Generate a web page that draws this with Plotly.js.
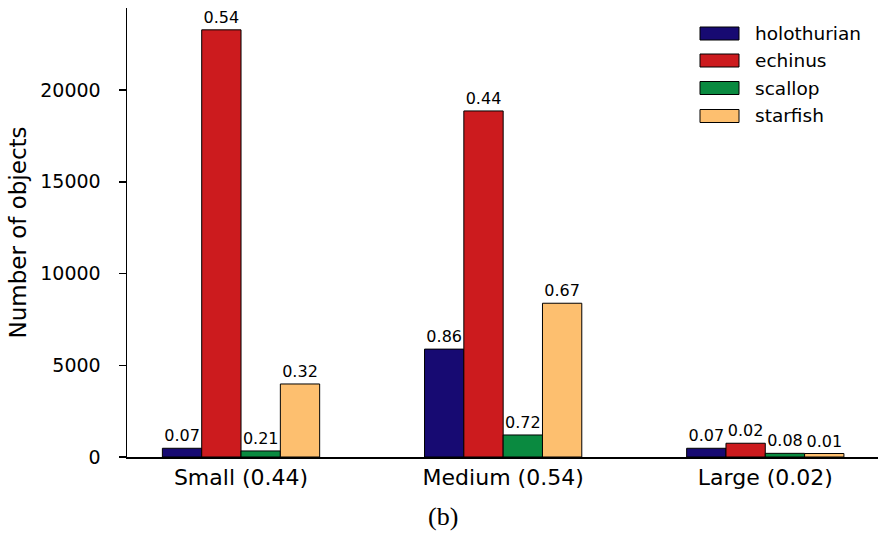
<!DOCTYPE html>
<html>
<head>
<meta charset="utf-8">
<script src="https://cdn.plot.ly/plotly-3.0.1.min.js"></script>
<style>html,body{margin:0;padding:0;background:#fff;}#chart{width:878px;height:533px;}</style>
</head>
<body>
<div id="chart"></div>
<script>
const categories = ['Small (0.44)', 'Medium (0.54)', 'Large (0.02)'];
const seriesNames = ['holothurian', 'echinus', 'scallop', 'starfish'];
const holothurian = [475, 5880, 475];
const echinus = [23280, 18860, 750];
const scallop = [330, 1200, 200];
const starfish = [3980, 8380, 190];
const holothurianLabels = ['0.07', '0.86', '0.07'];
const echinusLabels = ['0.54', '0.44', '0.02'];
const scallopLabels = ['0.21', '0.72', '0.08'];
const starfishLabels = ['0.32', '0.67', '0.01'];
const yTicks = [0, 5000, 10000, 15000, 20000];
const colors = ['#170a72', '#cc1b1e', '#0a8a40', '#fdbf6f'];

const values = [holothurian, echinus, scallop, starfish];
const labels = [holothurianLabels, echinusLabels, scallopLabels, starfishLabels];
const FONT = 'DejaVu Sans, sans-serif';

const traces = values.map((v, i) => ({
  type: 'bar',
  name: seriesNames[i],
  x: categories,
  y: v,
  text: labels[i],
  texttemplate: '%{text}',
  textposition: 'outside',
  constraintext: 'none',
  cliponaxis: false,
  textfont: {family: FONT, size: 16, color: '#000'},
  marker: {color: colors[i], line: {color: '#000', width: 1}},
  hoverinfo: 'none',
  showlegend: false
}));

// plot area in pixels
const L = 127, R = 878, T = 8, B = 457;
const px = x => (x - L) / (R - L);
const py = y => (B - y) / (B - T);

const shapes = [];
const annotations = [];
const rows = [33.5, 60.5, 88, 116];
seriesNames.forEach((n, i) => {
  shapes.push({type: 'rect', xref: 'paper', yref: 'paper',
    x0: px(700), x1: px(739), y0: py(rows[i] + 6.5), y1: py(rows[i] - 6.5),
    fillcolor: colors[i], line: {color: '#000', width: 1}});
  annotations.push({xref: 'paper', yref: 'paper', x: px(753), y: py(rows[i]),
    xanchor: 'left', yanchor: 'middle', showarrow: false, text: n,
    font: {family: FONT, size: 18.5, color: '#000'}});
});
annotations.push({xref: 'paper', yref: 'paper', x: px(443), y: py(516),
  xanchor: 'center', yanchor: 'middle', showarrow: false, text: '(b)',
  font: {family: 'Liberation Serif, Times New Roman, serif', size: 26, color: '#000'}});

const layout = {
  width: 878, height: 533,
  margin: {l: L, r: 878 - R, t: T, b: 533 - B, pad: 0},
  paper_bgcolor: '#fff', plot_bgcolor: '#fff',
  barmode: 'group', bargap: 0.4, bargroupgap: 0,
  showlegend: false,
  font: {family: FONT, color: '#000'},
  xaxis: {
    type: 'category', range: [-0.435, 2.43],
    showline: true, linecolor: '#000', linewidth: 1.5,
    ticks: '', showgrid: false, zeroline: false,
    tickfont: {family: FONT, size: 22, color: '#000'},
    ticklabelstandoff: 0
  },
  yaxis: {
    range: [0, 24470], tickvals: yTicks, ticktext: yTicks.map(String),
    showline: true, linecolor: '#000', linewidth: 1.5,
    ticks: 'outside', ticklen: 7, tickwidth: 1.5, tickcolor: '#000',
    showgrid: false, zeroline: false,
    tickfont: {family: FONT, size: 19, color: '#000'},
    ticklabelstandoff: 14,
    title: {text: 'Number of objects', standoff: 7, font: {family: FONT, size: 23, color: '#000'}}
  },
  shapes: shapes,
  annotations: annotations
};

Plotly.newPlot('chart', traces, layout, {displayModeBar: false, staticPlot: true});
</script>
</body>
</html>
